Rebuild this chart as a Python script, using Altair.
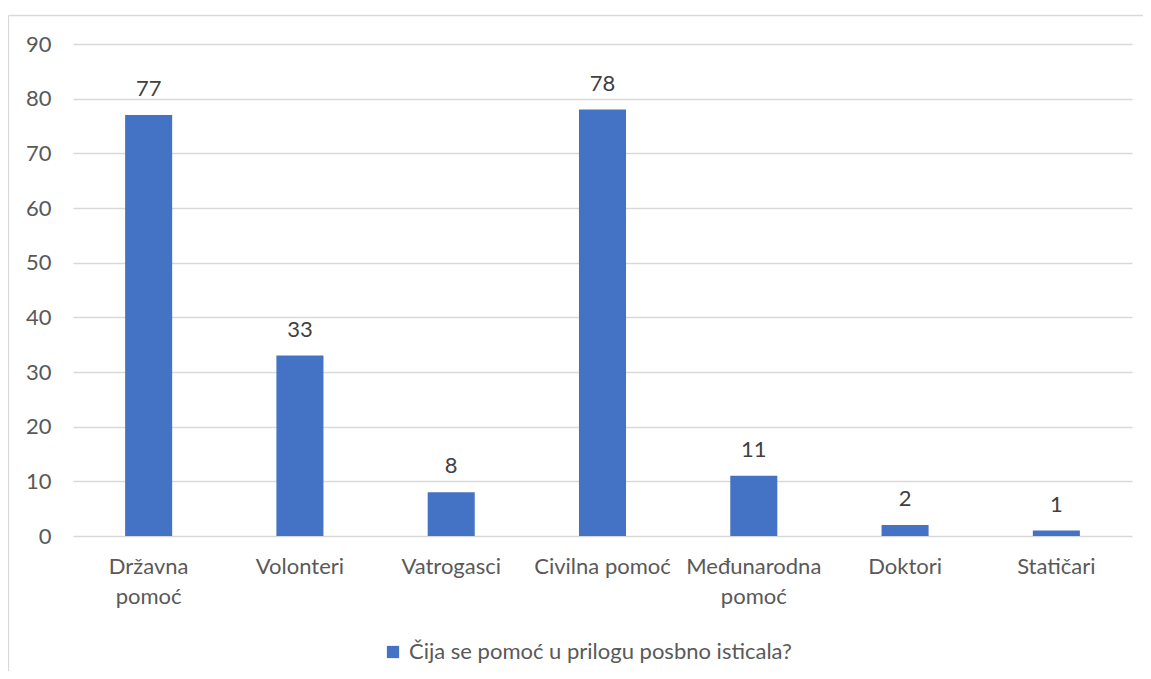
import altair as alt
import pandas as pd

categories = ["Državna pomoć", "Volonteri", "Vatrogasci", "Civilna pomoć",
              "Međunarodna pomoć", "Doktori", "Statičari"]
values = [77, 33, 8, 78, 11, 2, 1]
series_name = "Čija se pomoć u prilogu posbno isticala?"
y_ticks = [0, 10, 20, 30, 40, 50, 60, 70, 80, 90]

df = pd.DataFrame({"cat": categories, "val": values, "series": [series_name] * len(categories)})
frame_df = pd.DataFrame({"k": [0]})

FONT = "Lato"
FS = 22
W, H = 1059, 492

x_enc = alt.X("cat:N", sort=categories, title=None,
              scale=alt.Scale(paddingInner=0.689, paddingOuter=0.3445),
              axis=alt.Axis(labelAngle=0, ticks=False, domain=False, labelPadding=20,
                            labelFont=FONT, labelFontSize=FS, labelColor="#595959",
                            labelLineHeight=30, labelLimit=200,
                            labelExpr="datum.label == 'Državna pomoć' ? ['Državna', 'pomoć'] : datum.label == 'Međunarodna pomoć' ? ['Međunarodna', 'pomoć'] : datum.label"))
y_enc = alt.Y("val:Q", title=None,
              scale=alt.Scale(domain=[0, 90], nice=False),
              axis=alt.Axis(values=y_ticks, ticks=False, domain=False, labelPadding=22,
                            labelFont=FONT, labelFontSize=FS, labelColor="#595959",
                            gridColor="#d9d9d9", gridWidth=1.3))

bars = alt.Chart(df).mark_bar(color="#4472C4").encode(
    x=x_enc, y=y_enc,
    color=alt.Color("series:N", scale=alt.Scale(range=["#4472C4"]),
                    legend=alt.Legend(title=None, orient="none", legendX=309, legendY=597,
                                      symbolType="square", symbolSize=150, symbolStrokeWidth=0,
                                      labelFont=FONT, labelFontSize=FS, labelColor="#595959",
                                      labelOffset=5, padding=0, labelLimit=600)),
)

labels = alt.Chart(df).mark_text(font=FONT, fontSize=FS, color="#404040",
                                 baseline="alphabetic", dy=-19).encode(
    x=alt.X("cat:N", sort=categories), y="val:Q", text="val:Q")

frame_top = alt.Chart(frame_df).mark_rule(color="#d9d9d9", strokeWidth=1.3).encode(
    x=alt.value(-64.5), x2=alt.value(W + 40), y=alt.value(-28.5))
frame_left = alt.Chart(frame_df).mark_rule(color="#d9d9d9", strokeWidth=1.3).encode(
    x=alt.value(-64.5), y=alt.value(-28.5), y2=alt.value(H + 200))

chart = alt.layer(frame_top, frame_left, bars, labels).properties(
    width=W, height=H,
    autosize=alt.AutoSizeParams(type="none"),
    padding={"left": 65, "top": 36, "right": 11, "bottom": 135},
    background="white",
).configure_view(stroke=None)

chart.save("out.html", embed_options={"renderer": "svg", "actions": False})
